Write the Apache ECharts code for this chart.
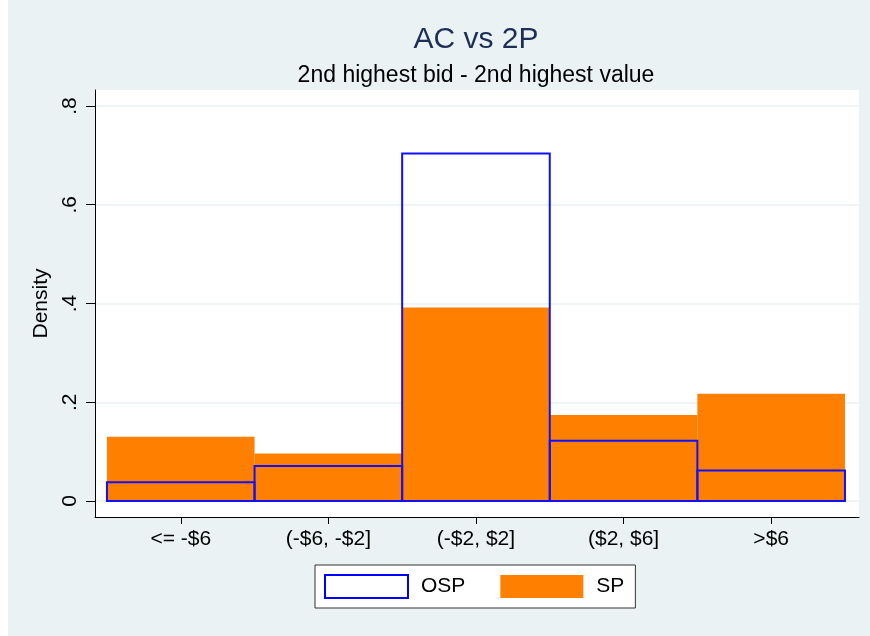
<!DOCTYPE html>
<html>
<head>
<meta charset="utf-8">
<script src="https://cdn.jsdelivr.net/npm/echarts@6/dist/echarts.min.js"></script>
<style>
  html, body { margin: 0; padding: 0; background: #fff; }
  #chart { position: absolute; left: 8px; top: 0; width: 862px; height: 636px; }
</style>
</head>
<body>
<div id="chart"></div>
<script>
const categories = ['<= -$6', '(-$6, -$2]', '(-$2, $2]', '($2, $6]', '>$6']
const ospValues = [0.038, 0.071, 0.704, 0.122, 0.062]
const spValues = [0.130, 0.096, 0.392, 0.174, 0.217]
const yTicks = [0, 0.2, 0.4, 0.6, 0.8]
const xTicks = [0.5, 1.5, 2.5, 3.5, 4.5]

const font = '"Liberation Sans", Arial, Helvetica, sans-serif'
const chart = echarts.init(document.getElementById('chart'))

// 每个区间画成一个矩形, 区间 i 占 [i, i+1]
function binRect(fill, stroke, lineWidth) {
  return function (params, api) {
    const i = api.value(0)
    const v = api.value(1)
    const p0 = api.coord([i, v])
    const p1 = api.coord([i + 1, 0])
    return {
      type: 'rect',
      shape: { x: p0[0], y: p0[1], width: p1[0] - p0[0], height: p1[1] - p0[1] },
      style: { fill: fill, stroke: stroke, lineWidth: lineWidth },
    }
  }
}

const option = {
  animation: false,
  backgroundColor: '#eaf2f3',
  textStyle: { fontFamily: font },
  title: [
    {
      text: 'AC vs 2P',
      left: 463,
      top: 20,
      textAlign: 'center',
      textStyle: { fontSize: 30, fontWeight: 'normal', color: '#1e2f55', fontFamily: font },
    },
    {
      text: '2nd highest bid - 2nd highest value',
      left: 463,
      top: 59,
      textAlign: 'center',
      textStyle: { fontSize: 23, fontWeight: 'normal', color: '#000', fontFamily: font },
    },
  ],
  legend: {
    left: 307,
    top: 565,
    padding: [9, 11, 9, 9],
    itemWidth: 83,
    itemHeight: 23,
    itemGap: 35,
    selectedMode: false,
    backgroundColor: '#fff',
    borderColor: '#333',
    borderWidth: 1,
    borderRadius: 0,
    textStyle: { fontSize: 21, color: '#000', fontFamily: font, padding: [0, 0, 0, 8] },
    data: [
      {
        name: 'OSP',
        icon: 'rect',
        itemStyle: { color: '#fff', borderColor: '#0000ff', borderWidth: 2 },
      },
      { name: 'SP', icon: 'rect', itemStyle: { color: '#ff8000' } },
    ],
  },
  grid: {
    left: 87,
    right: 11,
    top: 90,
    bottom: 119,
    show: true,
    backgroundColor: '#fff',
    borderWidth: 0,
  },
  xAxis: {
    type: 'value',
    min: -0.081,
    max: 5.095,
    axisLine: { show: true, onZero: false, lineStyle: { color: '#000', width: 1 } },
    axisTick: { show: true, length: 7, customValues: xTicks, lineStyle: { color: '#000' } },
    axisLabel: {
      customValues: xTicks,
      margin: 12,
      fontSize: 21,
      color: '#000',
      fontFamily: font,
      formatter: (v) => categories[Math.round(v - 0.5)] || '',
    },
    splitLine: { show: false },
  },
  yAxis: {
    type: 'value',
    min: -0.0324,
    max: 0.8324,
    name: 'Density',
    nameLocation: 'middle',
    nameGap: 38,
    nameTextStyle: { fontSize: 21, color: '#000', fontFamily: font },
    axisLine: { show: true, onZero: false, lineStyle: { color: '#000', width: 1 } },
    axisTick: { show: true, length: 9, customValues: yTicks, lineStyle: { color: '#000' } },
    axisLabel: {
      customValues: yTicks,
      rotate: 90,
      margin: 14,
      fontSize: 21,
      color: '#000',
      fontFamily: font,
      formatter: (v) => (v === 0 ? '0' : String(v).replace('0.', '.')),
    },
    splitLine: { show: true, lineStyle: { color: '#eaf2f3', width: 1.5 } },
  },
  series: [
    {
      name: 'SP',
      type: 'custom',
      z: 2,
      itemStyle: { color: '#ff8000' },
      renderItem: binRect('#ff8000', null, 0),
      data: spValues.map((v, i) => [i, v]),
    },
    {
      name: 'OSP',
      type: 'custom',
      z: 3,
      itemStyle: { color: '#0000ff' },
      renderItem: binRect(null, '#1010ff', 2),
      data: ospValues.map((v, i) => [i, v]),
    },
  ],
}

chart.setOption(option)

window.addEventListener('resize', () => chart.resize())
</script>
</body>
</html>
